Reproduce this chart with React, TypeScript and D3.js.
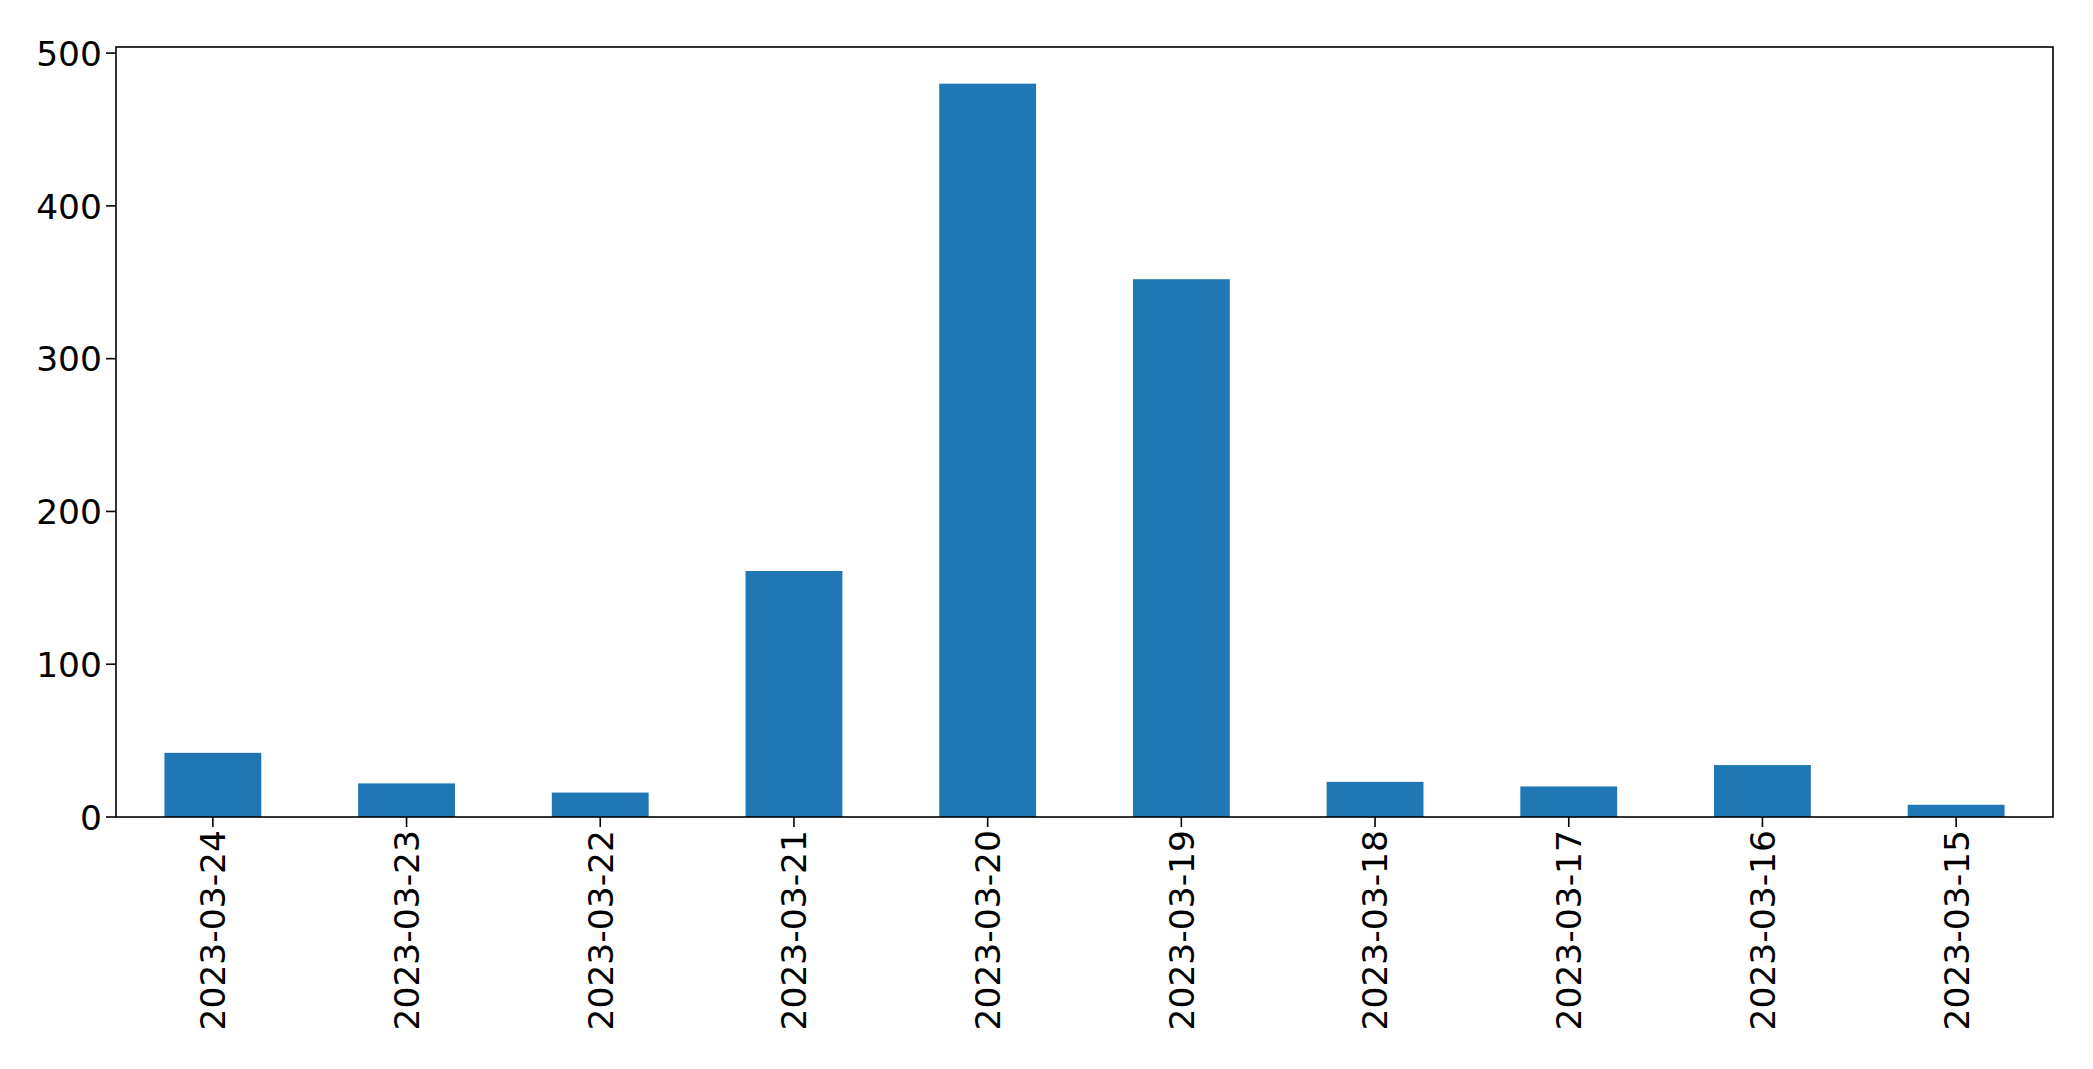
import React from "react";
import * as d3 from "d3";

const categories = ["2023-03-24", "2023-03-23", "2023-03-22", "2023-03-21", "2023-03-20", "2023-03-19", "2023-03-18", "2023-03-17", "2023-03-16", "2023-03-15"];
const values = [42, 22, 16, 161, 480, 352, 23, 20, 34, 8];
const yTicks = [0, 100, 200, 300, 400, 500];

const W = 2093;
const H = 1069;
const M = { left: 116, right: 2053, top: 47, bottom: 817 };
const FONT = "'DejaVu Sans', sans-serif";
const FS = 34.5;

export default function App() {
  const x = d3.scaleLinear().domain([-0.5, categories.length - 0.5]).range([M.left, M.right]);
  const yMax = d3.max(values)! * 1.05;
  const y = d3.scaleLinear().domain([0, yMax]).range([M.bottom, M.top]);
  const bw = (x(0.5) - x(0)) * 2 * 0.5;
  return (
    <div style={{ position: "fixed", left: 0, top: 0, background: "#fff" }}>
      <svg width={W} height={H} style={{ display: "block" }}>
        <rect width={W} height={H} fill="#fff" />
        {values.map((v, i) => (
          <rect key={i} x={x(i) - bw / 2} y={y(v)} width={bw} height={y(0) - y(v)} fill="#1f77b4" />
        ))}
        <rect x={M.left} y={M.top} width={M.right - M.left} height={M.bottom - M.top} fill="none" stroke="#000" strokeWidth={1.6} />
        {yTicks.map((t) => (
          <g key={t}>
            <line x1={M.left - 10} x2={M.left} y1={y(t)} y2={y(t)} stroke="#000" strokeWidth={1.6} />
            <text x={M.left - 14} y={y(t)} dy="0.37em" textAnchor="end" fontFamily={FONT} fontSize={FS} fill="#000">{t}</text>
          </g>
        ))}
        {categories.map((c, i) => (
          <g key={c}>
            <line x1={x(i)} x2={x(i)} y1={M.bottom} y2={M.bottom + 10} stroke="#000" strokeWidth={1.6} />
            <text transform={`translate(${x(i)},${M.bottom + 13}) rotate(-90)`} dy="0.36em" textAnchor="end" fontFamily={FONT} fontSize={FS} fill="#000">{c}</text>
          </g>
        ))}
      </svg>
    </div>
  );
}
